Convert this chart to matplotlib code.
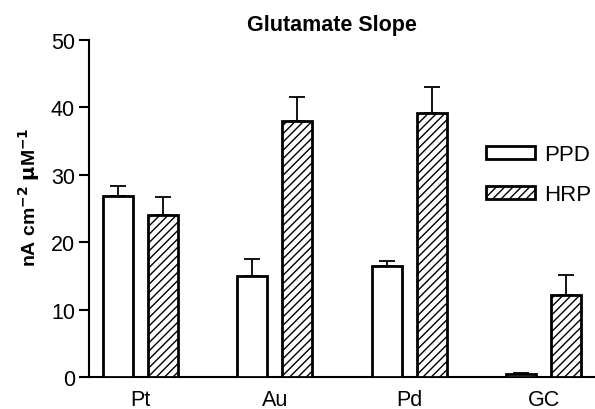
import matplotlib
matplotlib.use("Agg")
import matplotlib.pyplot as plt
import numpy as np

plt.rcParams["font.family"] = ["Liberation Sans", "DejaVu Sans"]
plt.rcParams["hatch.linewidth"] = 1.0

groups = ["Pt", "Au", "Pd", "GC"]
ppd = [26.8, 15.0, 16.4, 0.5]
ppd_err = [1.5, 2.5, 0.8, 0.1]
hrp = [24.0, 38.0, 39.1, 12.1]
hrp_err = [2.7, 3.5, 4.0, 3.1]


def main():
    fig = plt.figure(figsize=(5.95, 4.10), dpi=100)
    ax = fig.add_axes([89 / 595, 32 / 410, 506 / 595, 337 / 410])

    x = np.arange(len(groups))
    w = 0.223
    off = 0.1675
    ekw = dict(elinewidth=1.3, capthick=1.3, capsize=5.8, ecolor="black")
    ax.bar(x - off, ppd, w, color="white", edgecolor="black", linewidth=2,
           label="PPD", yerr=[np.zeros(4), ppd_err], error_kw=ekw, zorder=3)
    ax.bar(x + off, hrp, w, color="white", edgecolor="black", linewidth=2,
           hatch="////", label="HRP", yerr=[np.zeros(4), hrp_err],
           error_kw=ekw, zorder=3)

    ax.set_xlim(-0.383, 3.38)
    ax.set_ylim(0, 50)
    ax.set_yticks([0, 10, 20, 30, 40, 50])
    ax.set_xticks(x)
    ax.set_xticklabels(groups)
    ax.tick_params(axis="x", length=0, labelsize=15.5, pad=9)
    ax.tick_params(axis="y", length=7, width=1.5, labelsize=15.5, pad=3)
    for s in ["top", "right"]:
        ax.spines[s].set_visible(False)
    ax.spines["left"].set_linewidth(1.5)
    ax.spines["bottom"].set_linewidth(1.5)

    ax.set_ylabel("nA cm$^{\\mathbf{-2}}$ $\\mathbf{\\mu}$M$^{\\mathbf{-1}}$",
                  fontsize=14, fontweight="bold")
    ax.yaxis.set_label_coords(-0.093, 0.535)
    fig.text(332 / 595, 1 - 25 / 410, "Glutamate Slope", ha="center",
             va="center", fontsize=15.5, fontweight="bold")

    ax.legend(loc="upper left", bbox_to_anchor=(0.785, 0.69), frameon=False,
              fontsize=16, handlelength=2.2, handleheight=0.55,
              labelspacing=0.85, handletextpad=0.4, borderpad=0,
              borderaxespad=0)

    plt.savefig("out.png")


if __name__ == "__main__":
    main()
